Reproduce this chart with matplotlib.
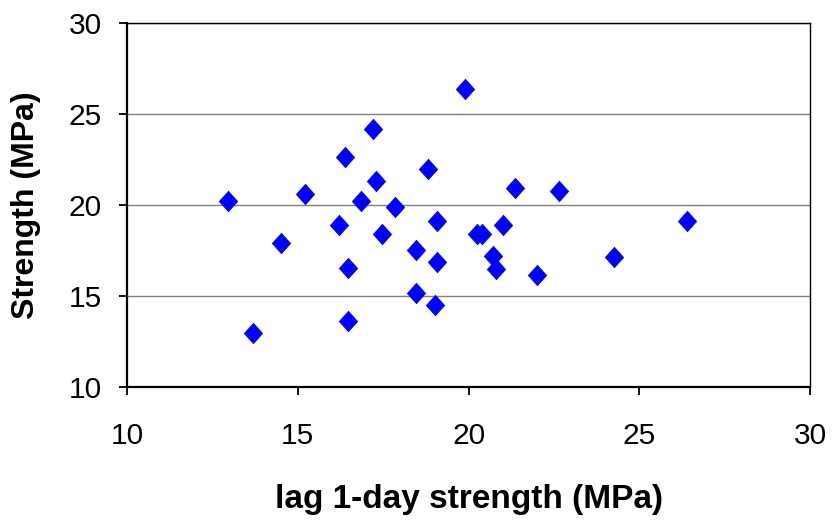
import matplotlib
matplotlib.use("Agg")
import matplotlib.pyplot as plt

# lag plot: strength vs strength of previous day
lag_strength = [12.96, 13.69, 14.51, 15.21, 16.21, 16.38, 16.47, 16.47, 16.85,
                17.20, 17.29, 17.47, 17.85, 18.46, 18.46, 18.81, 19.02, 19.08,
                19.08, 19.90, 20.25, 20.40, 20.72, 20.81, 21.01, 21.36, 22.01,
                22.65, 24.26, 26.40]
strength = [20.22, 12.97, 17.91, 20.60, 18.90, 22.64, 16.54, 13.63, 20.22,
            24.18, 21.32, 18.41, 19.89, 17.53, 15.16, 21.98, 14.51, 19.12,
            16.87, 26.37, 18.41, 18.41, 17.20, 16.48, 18.90, 20.93, 16.15,
            20.77, 17.14, 19.12]

xticks = [10, 15, 20, 25, 30]
yticks = [10, 15, 20, 25, 30]

plt.rcParams['font.family'] = ['Liberation Sans', 'DejaVu Sans']

fig = plt.figure(figsize=(8.36, 5.22), dpi=100)
ax = fig.add_axes([0.152, 0.259, 0.817, 0.697])

diamond = [(0, 1), (0.9, 0), (0, -1), (-0.9, 0), (0, 1)]
ax.plot(lag_strength, strength, linestyle='none', marker=diamond,
        markersize=15.5, color='#0000ff', markeredgewidth=0, zorder=3)

ax.set_xlim(10, 30)
ax.set_ylim(10, 30)
ax.set_xticks(xticks)
ax.set_yticks(yticks)
ax.yaxis.grid(True, color='#808080', linewidth=1.0)
ax.set_axisbelow(True)

for s in ['left', 'bottom']:
    ax.spines[s].set_linewidth(1.6)
for s in ['top', 'right']:
    ax.spines[s].set_linewidth(1.0)

ax.tick_params(direction='out', length=6, width=1.3, labelsize=21.5)
ax.tick_params(axis='y', pad=12)
ax.tick_params(axis='x', pad=19)

ax.set_xlabel("lag 1-day strength (MPa)", fontsize=24, fontweight='bold', labelpad=25)
ax.set_ylabel("Strength (MPa)", fontsize=23, fontweight='bold', labelpad=20)

fig.savefig("out.png", dpi=100)
